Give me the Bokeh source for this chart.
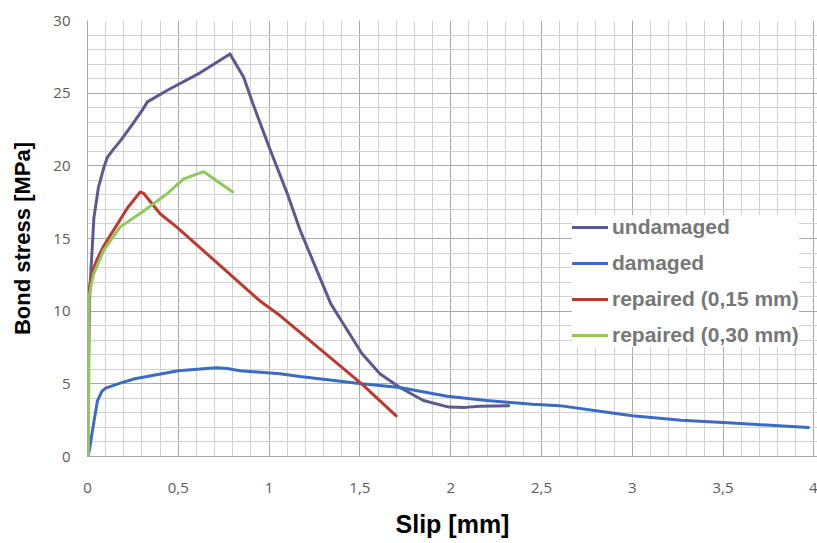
from bokeh.plotting import figure
from bokeh.models import FixedTicker, Range1d, Legend, LegendItem
from bokeh.embed import file_html
from bokeh.resources import INLINE

# ---- data ----
undamaged_x = [0, 0.005, 0.01, 0.016, 0.035, 0.06, 0.09, 0.11, 0.14, 0.18, 0.25, 0.30, 0.33, 0.44, 0.62, 0.785,
               0.86, 0.91, 1.0, 1.10, 1.17, 1.24, 1.34, 1.43, 1.51, 1.61, 1.72, 1.85, 1.99, 2.08, 2.16, 2.32]
undamaged_y = [0, 6, 10.5, 12.1, 16.4, 18.5, 19.9, 20.6, 21.1, 21.7, 22.9, 23.8, 24.4, 25.2, 26.4, 27.7,
               26.1, 24.3, 21.3, 18.1, 15.6, 13.5, 10.5, 8.7, 7.1, 5.7, 4.75, 3.85, 3.4, 3.38, 3.45, 3.5]

damaged_x = [0, 0.01, 0.03, 0.055, 0.08, 0.1, 0.18, 0.26, 0.5, 0.71, 0.77, 0.84, 1.06, 1.17, 1.51, 1.72,
             1.98, 2.2, 2.45, 2.6, 2.8, 3.0, 3.27, 3.55, 3.97]
damaged_y = [0, 0.4, 2.0, 3.85, 4.5, 4.7, 5.05, 5.35, 5.9, 6.1, 6.05, 5.9, 5.7, 5.5, 5.0, 4.75,
             4.15, 3.85, 3.6, 3.5, 3.15, 2.8, 2.5, 2.3, 2.0]

rep15_x = [0, 0.005, 0.01, 0.03, 0.05, 0.09, 0.13, 0.22, 0.29, 0.31, 0.40, 0.49, 0.68, 0.95, 1.06, 1.51, 1.70]
rep15_y = [0, 6, 11.6, 12.8, 13.5, 14.5, 15.3, 17.1, 18.2, 18.1, 16.7, 15.8, 13.7, 10.7, 9.7, 5.0, 2.8]

rep30_x = [0.005, 0.007, 0.009, 0.02, 0.035, 0.09, 0.18, 0.31, 0.44, 0.53, 0.64, 0.80]
rep30_y = [0, 5, 11.0, 11.8, 12.6, 14.2, 15.8, 16.9, 18.1, 19.1, 19.6, 18.2]

series_names = ["undamaged", "damaged", "repaired (0,15 mm)", "repaired (0,30 mm)"]

x_ticks = [0, 0.5, 1, 1.5, 2, 2.5, 3, 3.5, 4]
x_tick_labels = ["0", "0,5", "1", "1,5", "2", "2,5", "3", "3,5", "4"]
y_ticks = [0, 5, 10, 15, 20, 25, 30]

# ---- style ----
colors = ["#5c5890", "#3c6bc3", "#bd3a31", "#8fc95c"]
major_grid = "#a9a9a9"
minor_grid = "#d2d2d2"
tick_font = "Open Sans"
tick_size = "15px"
tick_color = "#5a5a5a"
x_pad = 0.02  # small room right of the last tick so its label stays on the page

p = figure(width=817, height=541, output_backend="svg", toolbar_location=None,
           x_range=Range1d(x_ticks[0], x_ticks[-1] + x_pad), y_range=Range1d(y_ticks[0], y_ticks[-1]),
           min_border_left=87, min_border_right=0, min_border_top=20, min_border_bottom=85)
p.outline_line_color = None
p.background_fill_color = "white"

x_minor = [round(i * 0.1, 1) for i in range(0, 41)]
y_minor = list(range(0, 31))
p.xaxis.ticker = FixedTicker(ticks=x_ticks, minor_ticks=x_minor)
p.yaxis.ticker = FixedTicker(ticks=y_ticks, minor_ticks=y_minor)

overrides = {}
for t, lab in zip(x_ticks, x_tick_labels):
    key = int(t) if float(t).is_integer() else t
    overrides[key] = lab
p.xaxis.major_label_overrides = overrides

for ax in (p.xaxis, p.yaxis):
    ax.major_tick_out = 0
    ax.major_tick_in = 0
    ax.minor_tick_out = 0
    ax.minor_tick_in = 0
    ax.axis_line_color = major_grid
    ax.major_label_text_font = tick_font
    ax.major_label_text_font_size = tick_size
    ax.major_label_text_color = tick_color
    ax.axis_label_text_font = "Liberation Sans"
    ax.axis_label_text_font_style = "bold"
    ax.axis_label_text_color = "black"

p.xaxis.axis_label = "Slip [mm]"
p.xaxis.axis_label_text_font_size = "25px"
p.xaxis.major_label_standoff = 26
p.xaxis.axis_label_standoff = 14

p.yaxis.axis_label = "Bond stress [MPa]"
p.yaxis.axis_label_text_font_size = "22px"
p.yaxis.major_label_standoff = 17
p.yaxis.axis_label_standoff = 15

p.xgrid.grid_line_color = major_grid
p.ygrid.grid_line_color = major_grid
p.xgrid.minor_grid_line_color = minor_grid
p.ygrid.minor_grid_line_color = minor_grid
p.xgrid.grid_line_width = 1
p.ygrid.grid_line_width = 1

xs = [undamaged_x, damaged_x, rep15_x, rep30_x]
ys = [undamaged_y, damaged_y, rep15_y, rep30_y]
renderers = []
for x, y, c in zip(xs, ys, colors):
    r = p.line(x, y, line_color=c, line_width=3, line_join="round", line_cap="round")
    renderers.append(r)

legend = Legend(items=[LegendItem(label=n, renderers=[r]) for n, r in zip(series_names, renderers)],
                location=(485, 109))
legend.label_text_font = "Liberation Sans"
legend.label_text_font_style = "bold"
legend.label_text_font_size = "21px"
legend.label_text_color = "#777777"
legend.glyph_width = 36
legend.glyph_height = 24
legend.label_height = 24
legend.label_standoff = 4
legend.spacing = 12
legend.padding = 6
legend.margin = 0
legend.border_line_color = None
legend.background_fill_color = "white"
legend.background_fill_alpha = 1.0
p.add_layout(legend, "center")

open("out.html", "w").write(file_html(p, INLINE))
